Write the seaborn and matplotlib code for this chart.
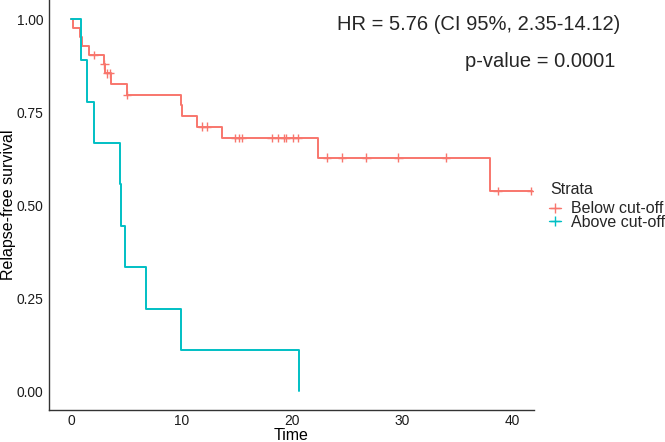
import numpy as np
import pandas as pd
import matplotlib
matplotlib.use("Agg")
import matplotlib.pyplot as plt
from matplotlib.lines import Line2D
import seaborn as sns

sns.set_style("white")
plt.rcParams['font.family'] = ['Liberation Sans', 'DejaVu Sans']

# Kaplan-Meier steps
strata = ["Below cut-off", "Above cut-off"]
below_time = [0, 0.15, 0.8, 0.95, 1.65, 3.0, 3.1, 3.65, 5.05, 9.95, 10.05, 11.4, 13.7, 22.4, 38.0, 41.8]
below_surv = [1.0, 0.975, 0.951, 0.927, 0.903, 0.878, 0.854, 0.826, 0.796, 0.768, 0.740, 0.711, 0.681, 0.628, 0.538, 0.538]
below_censor = [2.05, 3.02, 3.3, 3.5, 5.1, 11.9, 12.3, 14.9, 15.2, 15.5, 18.2, 18.75, 19.35,
                19.5, 20.1, 20.6, 23.2, 24.6, 26.8, 29.7, 34.0, 38.7, 41.7]
above_time = [0, 0.87, 1.45, 2.05, 4.4, 4.53, 4.92, 6.8, 9.96, 20.7]
above_surv = [1.0, 0.889, 0.778, 0.667, 0.556, 0.444, 0.333, 0.222, 0.111, 0.0]
above_censor = []

hr_text = "HR = 5.76 (CI 95%, 2.35-14.12)"
p_text = "p-value = 0.0001"
colors = ["#F8766D", "#00BFC4"]

def surv_at(times, surv, t):
    idx = np.searchsorted(times, t, side='right') - 1
    return surv[idx]

curves = pd.concat([
    pd.DataFrame({'time': below_time, 'surv': below_surv, 'strata': strata[0]}),
    pd.DataFrame({'time': above_time, 'surv': above_surv, 'strata': strata[1]}),
])
cens = pd.concat([
    pd.DataFrame({'time': below_censor,
                  'surv': [surv_at(below_time, below_surv, t) for t in below_censor],
                  'strata': strata[0]}),
    pd.DataFrame({'time': above_censor,
                  'surv': [surv_at(above_time, above_surv, t) for t in above_censor],
                  'strata': strata[1]}),
])

fig = plt.figure(figsize=(6.65, 4.42), dpi=100)
ax = fig.add_axes([49 / 665, 32 / 442, 485 / 665, 409.6 / 442])

sns.lineplot(data=curves, x='time', y='surv', hue='strata', hue_order=strata,
             palette=colors, drawstyle='steps-post', estimator=None,
             linewidth=1.4, legend=False, ax=ax)
sns.scatterplot(data=cens, x='time', y='surv', hue='strata', hue_order=strata,
                palette=colors, marker='+', s=36, linewidth=1.0, legend=False, ax=ax)

ax.set_xlim(-2, 42)
ax.set_ylim(-0.05, 1.05)
ax.set_xticks([0, 10, 20, 30, 40])
ax.set_yticks([0, 0.25, 0.5, 0.75, 1.0])
ax.set_yticklabels(["0.00", "0.25", "0.50", "0.75", "1.00"])
ax.tick_params(axis='both', labelsize=9.9, length=2.2, width=0.8, color='#333333',
               labelcolor='#1a1a1a')
ax.tick_params(axis='x', pad=1.0)
ax.tick_params(axis='y', pad=1.9)
ax.set_xlabel("Time", fontsize=11.5, labelpad=0, color='black')
ax.set_ylabel("Relapse-free survival", fontsize=11.5, labelpad=0, color='black')
sns.despine(ax=ax)
for side in ['left', 'bottom']:
    ax.spines[side].set_color('#333333')
    ax.spines[side].set_linewidth(1.0)

ax.text(24.1, 0.970, hr_text, fontsize=14.5, ha='left', va='baseline')
ax.text(35.7, 0.872, p_text, fontsize=14.5, ha='left', va='baseline')

# legend: title drawn separately so the gap can be set
fig.text(550 / 665, (442 - 193.7) / 442, "Strata", fontsize=11.5, ha='left', va='baseline')
handles = [Line2D([], [], color=c, marker='+', markersize=7, linewidth=1.0, mew=1.0)
           for c in colors]
leg = ax.legend(handles, strata, loc='center left',
                bbox_to_anchor=(548.6 / 665, (442 - 215.5) / 442), bbox_transform=fig.transFigure,
                frameon=False, fontsize=11.5,
                handlelength=0.8, handletextpad=0.58, labelspacing=-0.125,
                borderpad=0, borderaxespad=0)

fig.savefig("out.png", dpi=100)
